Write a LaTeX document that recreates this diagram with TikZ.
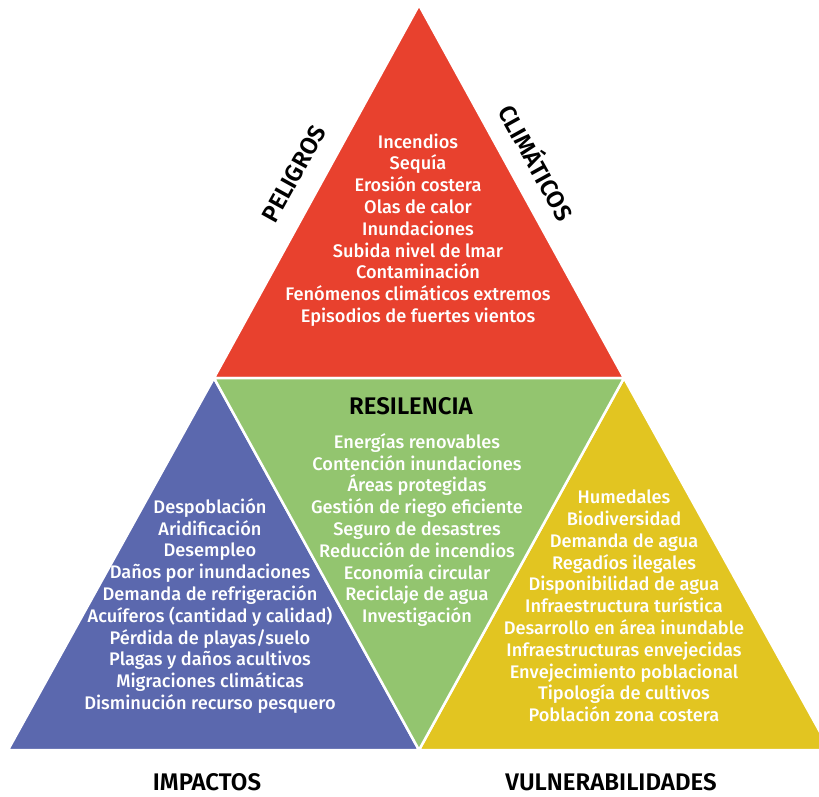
\documentclass[tikz,border=0pt]{standalone}
\usepackage{fontspec}
\setmainfont{Fira Sans}[UprightFont={* Medium}, BoldFont={* SemiBold}]
\usepackage{xcolor}
\usetikzlibrary{positioning}

\definecolor{peligro}{HTML}{E8412E}
\definecolor{impacto}{HTML}{5B68AE}
\definecolor{resil}{HTML}{93C56F}
\definecolor{vulner}{HTML}{E2C521}

\begin{document}
\begin{tikzpicture}[
    x=1pt, y=-1pt,
    tri/.style    = {draw=white, line width=2.5pt, line join=miter},
    items/.style  = {text=white, font=\fontsize{18.2}{21.8}\selectfont,
                     align=center, inner sep=0pt},
    title/.style  = {text=black, font=\fontsize{24}{26}\selectfont\bfseries,
                     inner sep=0pt}
]
\useasboundingbox (0,0) rectangle (819,796);
\fill[white] (0,0) rectangle (819,796);

%% Vertices
\coordinate (apex) at (419,5);
\coordinate (tl)   at (214,378);
\coordinate (tr)   at (624,378);
\coordinate (bl)   at (8,750);
\coordinate (bm)   at (419,750);
\coordinate (br)   at (830,750);

%% Triangles
\filldraw[tri, fill=peligro] (apex) -- (tr) -- (tl) -- cycle;
\filldraw[tri, fill=impacto] (tl) -- (bm) -- (bl) -- cycle;
\filldraw[tri, fill=vulner]  (tr) -- (br) -- (bm) -- cycle;
\filldraw[tri, fill=resil]   (tl) -- (tr) -- (bm) -- cycle;

%% Lists
\node[items] (haz) at (418,230) {Incendios\\Sequía\\Erosión costera\\Olas de calor\\Inundaciones\\Subida nivel de lmar\\Contaminación\\Fenómenos climáticos extremos\\Episodios de fuertes vientos};
\node[items] (imp) at (210,606) {Despoblación\\Aridificación\\Desempleo\\Daños por inundaciones\\Demanda de refrigeración\\Acuíferos (cantidad y calidad)\\Pérdida de playas/suelo\\Plagas y daños acultivos\\Migraciones climáticas\\Disminución recurso pesquero};
\node[items] (res) at (417,530) {Energías renovables\\Contención inundaciones\\Áreas protegidas\\Gestión de riego eficiente\\Seguro de desastres\\Reducción de incendios\\Economía circular\\Reciclaje de agua\\Investigación};
\node[items] (vul) at (624,606) {Humedales\\Biodiversidad\\Demanda de agua\\Regadíos ilegales\\Disponibilidad de agua\\Infraestructura turística\\Desarrollo en área inundable\\Infraestructuras envejecidas\\Envejecimiento poblacional\\Tipología de cultivos\\Población zona costera};

%% Titles
\node[title, rotate=61]  (tpel) at (294,174) {PELIGROS};
\node[title, rotate=-61] (tcli) at (538,162) {CLIMÁTICOS};
\node[title] (tres) at (411,406) {RESILENCIA};
\node[title] (timp) at (207,782) {IMPACTOS};
\node[title] (tvul) at (611,782) {VULNERABILIDADES};

\end{tikzpicture}
\end{document}
